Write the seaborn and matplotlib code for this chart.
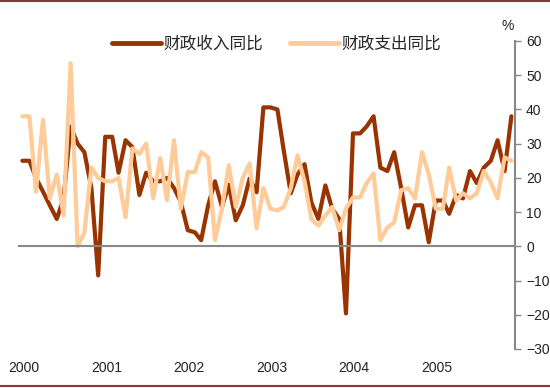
import matplotlib
matplotlib.use("Agg")
import matplotlib.pyplot as plt
import matplotlib.dates as mdates
import matplotlib.lines as mlines
import numpy as np
import pandas as pd
import seaborn as sns

# monthly YoY growth, Jan 2000 - Dec 2005 (%)
revenue = [25, 25, 20, 16, 12, 8, 14, 35, 30, 27.5, 17, -8.5,
           32, 32, 21.5, 31, 29, 15, 21.5, 19, 19, 20, 17, 13,
           4.7, 4.1, 1.8, 12, 19, 11.5, 18, 7.6, 12, 19.8, 15.8, 40.6,
           40.6, 40, 28, 15.5, 21, 24, 12.8, 8, 17.8, 11, 8, -19.6,
           33, 33, 35, 38, 23, 22, 27.5, 17, 5.5, 12, 12, 1.2,
           13.4, 13.4, 9.5, 15, 14, 22, 18.5, 23, 25, 31, 22, 38]
expenditure = [38, 38, 16, 37, 14, 21, 9, 53.5, 0, 4, 23, 20,
               19, 19, 20, 8.5, 28.6, 27, 30, 14, 25.8, 13.5, 31, 11,
               21.7, 21.7, 27.5, 26, 1.8, 11, 23.7, 11.5, 20, 24.2, 5.3, 17,
               11, 10.5, 11.5, 17, 26.6, 19, 8, 6, 9, 11.5, 4.7, 11,
               14.3, 14.3, 18.4, 21.3, 1.8, 5.5, 7, 16.4, 17, 14, 27.5, 21,
               11, 11, 23, 13.4, 15.5, 14, 15.5, 22, 18.7, 14, 26, 25]
series_names = ["财政收入同比", "财政支出同比"]
year_labels = ["2000", "2001", "2002", "2003", "2004", "2005"]
y_ticks = [-30, -20, -10, 0, 10, 20, 30, 40, 50, 60]

months = pd.date_range("2000-01-01", periods=len(revenue), freq="MS") + pd.Timedelta(days=15)
df = pd.DataFrame({
    "date": np.concatenate([months, months]),
    "value": revenue + expenditure,
    "series": [series_names[0]] * len(revenue) + [series_names[1]] * len(expenditure),
})

sns.set_style("white")
plt.rcParams["font.family"] = ["Liberation Sans", "Noto Sans CJK SC", "DejaVu Sans"]

fig = plt.figure(figsize=(5.5, 3.88), dpi=100)
ax = fig.add_axes([19 / 550, 1 - 349 / 388, 496 / 550, 308 / 388])

colors = {series_names[0]: "#993300", series_names[1]: "#FFCC99"}
sns.lineplot(data=df, x="date", y="value", hue="series", palette=colors,
             linewidth=3.0, ax=ax, legend=False)

ax.set_xlim(pd.Timestamp("2000-01-01"), pd.Timestamp("2006-01-01"))
ax.set_ylim(-30, 60)
ax.set_xlabel("")
ax.set_ylabel("")

# right-hand value axis
ax.yaxis.tick_right()
ax.set_yticks(y_ticks)
ax.tick_params(axis="y", direction="out", length=4, width=1, color="#888888",
               labelsize=10, pad=4, labelcolor="#222222")
for s in ["left", "top"]:
    ax.spines[s].set_visible(False)
ax.spines["right"].set_color("#888888")
ax.spines["right"].set_linewidth(1.5)

# zero line with year ticks, year labels at the bottom
year_pos = [pd.Timestamp(f"{y}-01-01") for y in year_labels]
ax.spines["bottom"].set_position(("data", 0))
ax.spines["bottom"].set_color("#888888")
ax.spines["bottom"].set_linewidth(1.5)
ax.set_xticks(year_pos)
ax.set_xticklabels([])
ax.tick_params(axis="x", direction="out", length=4, width=1, color="#888888")
for pos, lab in zip(year_pos, year_labels):
    ax.text(mdates.date2num(pos) + 20, -0.04, lab, transform=ax.get_xaxis_transform(),
            ha="center", va="top", fontsize=10, color="#222222")

ax.text(0.985, 1.025, "%", transform=ax.transAxes, ha="center", va="bottom",
        fontsize=10, color="#222222")

handles = [mlines.Line2D([], [], color=colors[n], linewidth=3.5) for n in series_names]
ax.legend(handles, series_names, loc="center", bbox_to_anchor=(0.52, 0.99), ncol=2,
          frameon=False, handlelength=2.9, handletextpad=0.2, columnspacing=1.6,
          prop={"family": ["Noto Sans CJK SC"], "size": 12})

# dark red rules at top and bottom of the figure
for yy in [0.997, 0.005]:
    fig.add_artist(mlines.Line2D([0, 1], [yy, yy], transform=fig.transFigure,
                                 color="#8B3A3A", linewidth=1.5))

fig.savefig("out.png", dpi=100)
